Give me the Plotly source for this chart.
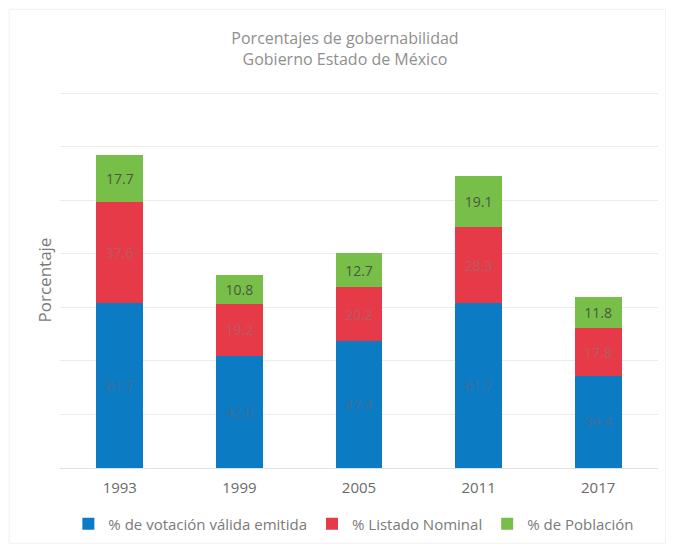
import plotly.graph_objects as go

years = ["1993", "1999", "2005", "2011", "2017"]
votacion = [61.7, 42.0, 47.4, 61.7, 34.4]
listado = [37.6, 19.2, 20.2, 28.3, 17.8]
poblacion = [17.7, 10.8, 12.7, 19.1, 11.8]

series = [
    ("% de votación válida emitida", votacion, "#0b7bc4", "#3f6f98"),
    ("% Listado Nominal", listado, "#e63a48", "#b85a63"),
    ("% de Población", poblacion, "#78bf4a", "#4a5840"),
]

fig = go.Figure()
for name, vals, color, tcolor in series:
    fig.add_trace(go.Bar(
        x=years, y=vals, name=name,
        marker=dict(color=color, line=dict(width=0)),
        text=[f"{v:.1f}" for v in vals],
        textposition="inside", insidetextanchor="middle",
        textfont=dict(color=tcolor, size=14, family="Open Sans"),
        hoverinfo="skip",
    ))

# page has an 8px body margin, so the figure is sized to fill the rest
fig.update_layout(
    barmode="stack",
    bargap=0.61,
    width=666, height=543,
    paper_bgcolor="white", plot_bgcolor="white",
    margin=dict(l=52, r=16, t=84, b=83, autoexpand=False),
    font=dict(family="Open Sans", color="#7f7f7f"),
    title=dict(
        text="Porcentajes de gobernabilidad<br>Gobierno Estado de México",
        x=0.506, xanchor="center", y=0.934, yanchor="middle",
        font=dict(size=16, color="#8f8f8f"),
    ),
    xaxis=dict(
        showline=True, linecolor="#e0e0e0", linewidth=1,
        tickfont=dict(size=15, color="#6a6a6a"),
        ticks="outside", ticklen=6, tickcolor="rgba(0,0,0,0)",
        automargin=False,
    ),
    yaxis=dict(
        range=[0, 140.5], dtick=20,
        showticklabels=False,
        gridcolor="#ebebeb", gridwidth=1,
        zeroline=False, automargin=False,
        title=dict(text="Porcentaje", font=dict(size=17, color="#7a7a7a"), standoff=3),
    ),
    legend=dict(
        orientation="h", x=0.014, xanchor="left", y=-0.149, yanchor="middle",
        font=dict(size=15, color="#7a7a7a"),
        traceorder="normal",
        itemwidth=30,
    ),
    uniformtext=dict(minsize=8, mode="show"),
)

fig.add_shape(type="rect", xref="paper", yref="paper",
              x0=-0.085, x1=1.013, y0=-0.2, y1=1.22,
              line=dict(color="#f0f0f0", width=1), layer="below")

fig.write_html("out.html")
